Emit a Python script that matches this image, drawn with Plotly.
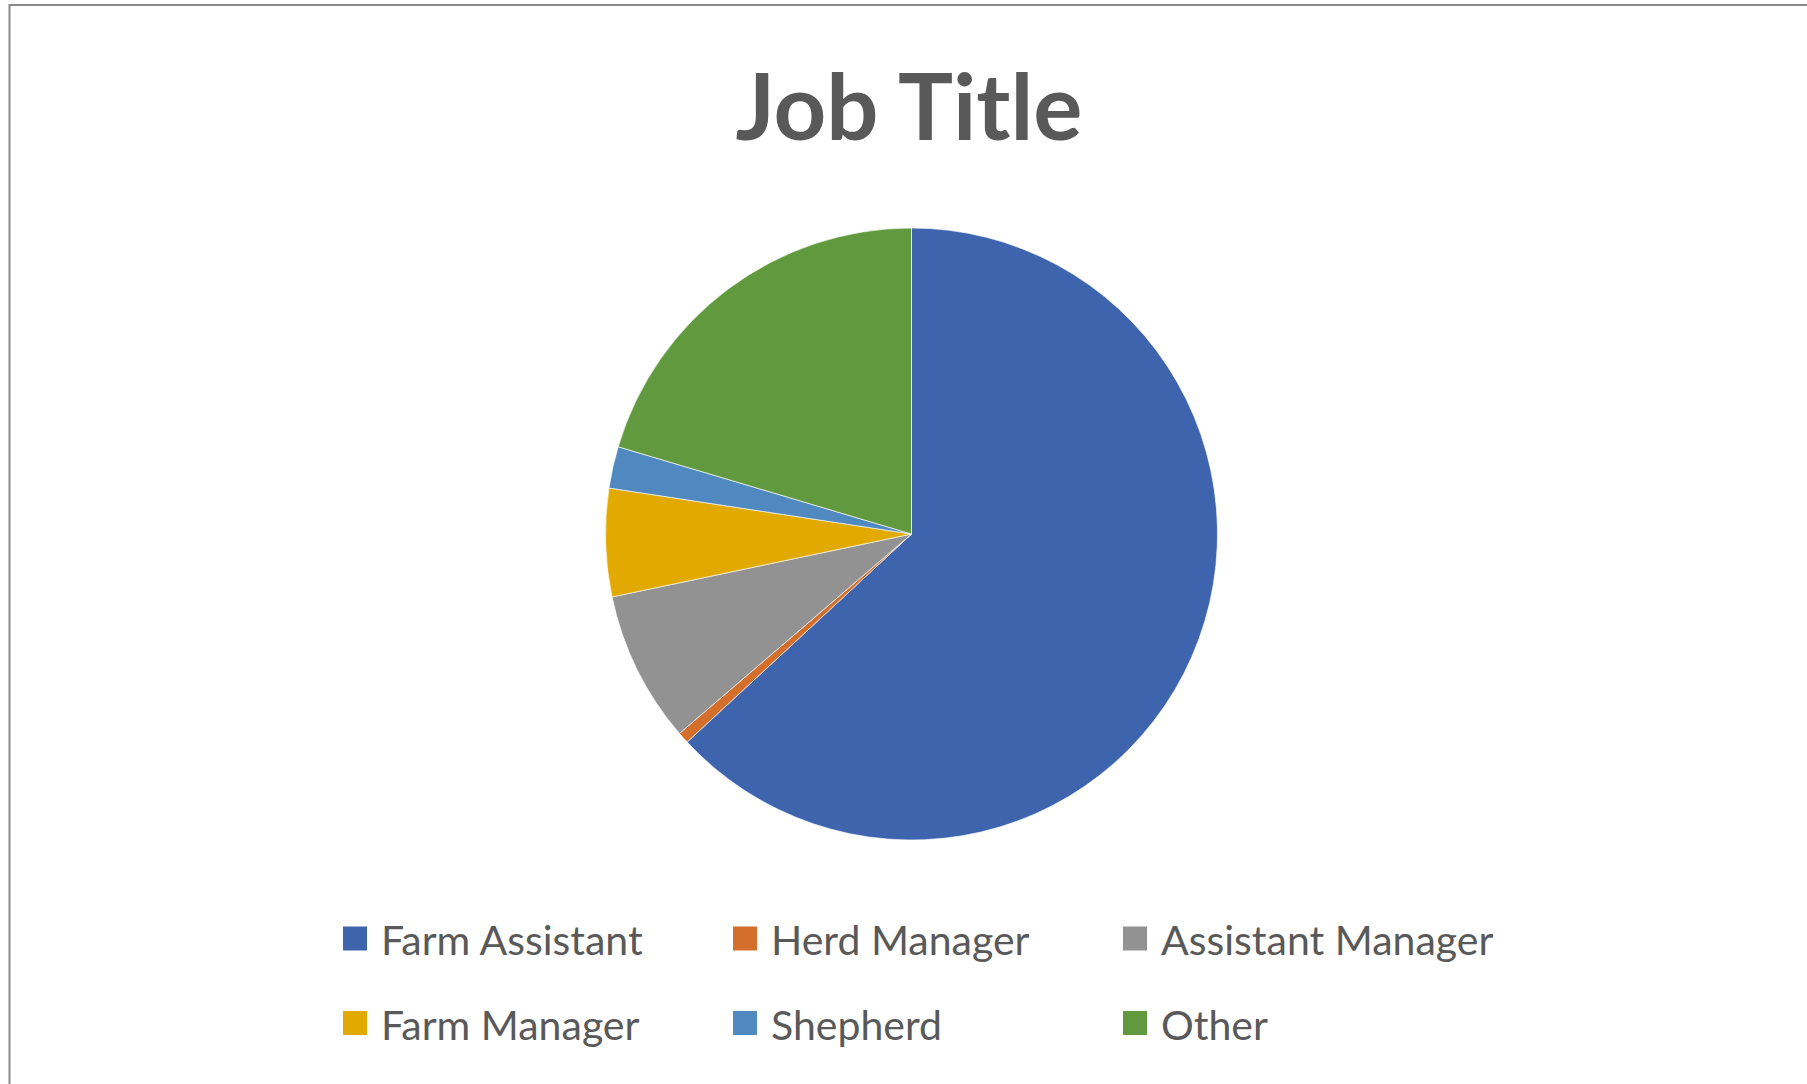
import plotly.graph_objects as go

# ---- data ----
labels = ["Farm Assistant", "Herd Manager", "Assistant Manager",
          "Farm Manager", "Shepherd", "Other"]
values = [63.1, 0.6, 8.0, 5.7, 2.2, 20.4]
colors = ["#3D64AD", "#D46F2B", "#929292", "#E2AA00", "#4F89C0", "#61993F"]
title_text = "Job Title"

W, H = 1807, 1084
TEXT = "#595959"

# pie geometry (pixels)
cx, cy, r = 911.5, 534.0, 306.0

fig = go.Figure()
fig.add_trace(go.Pie(
    labels=labels, values=values, sort=False, direction="clockwise",
    rotation=0, textinfo="none", hoverinfo="label+percent",
    marker=dict(colors=colors, line=dict(color="rgba(255,255,255,0.8)", width=0.8)),
    domain=dict(x=[(cx - r) / W, (cx + r) / W], y=[1 - (cy + r) / H, 1 - (cy - r) / H]),
    showlegend=False,
))

shapes = [dict(type="rect", xref="paper", yref="paper",
               x0=9.5 / W, x1=1.02, y0=-0.02, y1=1 - 5 / H,
               line=dict(color="#8a8a8a", width=2), fillcolor="rgba(0,0,0,0)", layer="above")]
annotations = []

# legend (3 columns x 2 rows), built from the data lists
col_x = [343, 733, 1123]
row_y = [938.5, 1023]
msz = 24
for i, (lab, col) in enumerate(zip(labels, colors)):
    cxl = col_x[i % 3]
    cyl = row_y[i // 3]
    shapes.append(dict(type="rect", xref="paper", yref="paper",
                       x0=cxl / W, x1=(cxl + msz) / W,
                       y0=1 - (cyl + msz / 2) / H, y1=1 - (cyl - msz / 2) / H,
                       line=dict(width=0), fillcolor=col))
    annotations.append(dict(text=lab, xref="paper", yref="paper",
                            x=(cxl + msz + 12) / W, y=1 - (cyl + 1) / H,
                            xanchor="left", yanchor="middle", showarrow=False,
                            font=dict(family="Lato", size=41, color=TEXT)))

fig.update_layout(
    width=W, height=H,
    margin=dict(l=0, r=0, t=0, b=0),
    paper_bgcolor="white", plot_bgcolor="white",
    title=dict(text="<b>" + title_text + "</b>", x=909 / W, xanchor="center",
               y=1 - 108 / H, yanchor="middle", yref="container",
               font=dict(family="Lato", size=92, color=TEXT)),
    shapes=shapes, annotations=annotations,
)

fig.write_html("out.html", config={"displayModeBar": False},
               post_script="document.body.style.margin='0';document.body.style.overflow='hidden';")
